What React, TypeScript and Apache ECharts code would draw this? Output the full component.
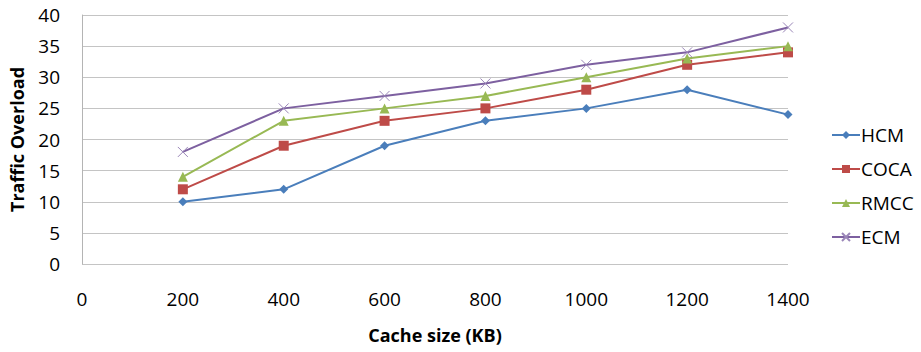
import React, { useEffect, useRef } from "react";
import * as echarts from "echarts";

// Cache sizes (KB) and traffic overload per scheme
const cacheSizes = [200, 400, 600, 800, 1000, 1200, 1400];
const hcm = [10, 12, 19, 23, 25, 28, 24];
const coca = [12, 19, 23, 25, 28, 32, 34];
const rmcc = [14, 23, 25, 27, 30, 33, 35];
const ecm = [18, 25, 27, 29, 32, 34, 38];

const seriesNames = ["HCM", "COCA", "RMCC", "ECM"];
const seriesColors = ["#4a7ebb", "#be4b48", "#98b954", "#7d60a0"];

const FONT = "'Open Sans', 'Noto Sans', sans-serif";
const CROSS = "path://M0,0L10,10M10,0L0,10";

export default function App() {
  const ref = useRef<HTMLDivElement>(null);

  useEffect(() => {
    if (!ref.current) return;
    document.body.style.margin = "0";
    const chart = echarts.init(ref.current, undefined, { renderer: "svg" });

    const pairs = (vals: number[]) => cacheSizes.map((x, i) => [x, vals[i]]);
    const valueSets = [hcm, coca, rmcc, ecm];
    const symbols = ["diamond", "rect", "triangle", CROSS];
    const sizes = [9, 10, 10, 10];

    chart.setOption({
      animation: false,
      backgroundColor: "#ffffff",
      textStyle: { fontFamily: FONT },
      grid: { left: 82, top: 15, right: 133, bottom: 88, containLabel: false },
      legend: {
        orient: "vertical",
        left: 826,
        top: 119,
        itemWidth: 28,
        itemHeight: 10,
        itemGap: 12,
        textStyle: {
          fontFamily: FONT,
          fontSize: 19,
          lineHeight: 22,
          color: "#000",
          padding: [0, 0, 0, -4],
        },
        data: seriesNames,
      },
      xAxis: {
        type: "value",
        min: 0,
        max: 1400,
        interval: 200,
        name: "Cache size (KB)",
        nameLocation: "middle",
        nameGap: 62,
        nameTextStyle: { fontFamily: FONT, fontSize: 18, fontWeight: "bold", color: "#000" },
        axisLine: { show: false },
        axisTick: { show: false },
        splitLine: { show: false },
        axisLabel: {
          margin: 25,
          fontFamily: FONT,
          fontSize: 19,
          color: "#000",
          formatter: (v: number) => String(v),
        },
      },
      yAxis: {
        type: "value",
        min: 0,
        max: 40,
        interval: 5,
        name: "Traffic Overload",
        nameLocation: "middle",
        nameGap: 56,
        nameTextStyle: { fontFamily: FONT, fontSize: 18, fontWeight: "bold", color: "#000" },
        axisLine: { show: true, lineStyle: { color: "#b4b4b4", width: 1 } },
        axisTick: { show: false },
        splitLine: { show: true, lineStyle: { color: "#c4c4c4", width: 1 } },
        axisLabel: { margin: 22, fontFamily: FONT, fontSize: 19, color: "#000" },
      },
      series: seriesNames.map((name, i) => ({
        name,
        type: "line",
        data: pairs(valueSets[i]),
        symbol: symbols[i],
        symbolSize: sizes[i],
        showSymbol: true,
        lineStyle: { color: seriesColors[i], width: 2 },
        itemStyle:
          i === 3
            ? { color: seriesColors[i], borderColor: "#9a86b8", borderWidth: 1 }
            : { color: seriesColors[i], borderWidth: 0 },
        emphasis: { disabled: true },
      })),
    });

    return () => chart.dispose();
  }, []);

  return <div ref={ref} style={{ width: 921, height: 352 }} />;
}
